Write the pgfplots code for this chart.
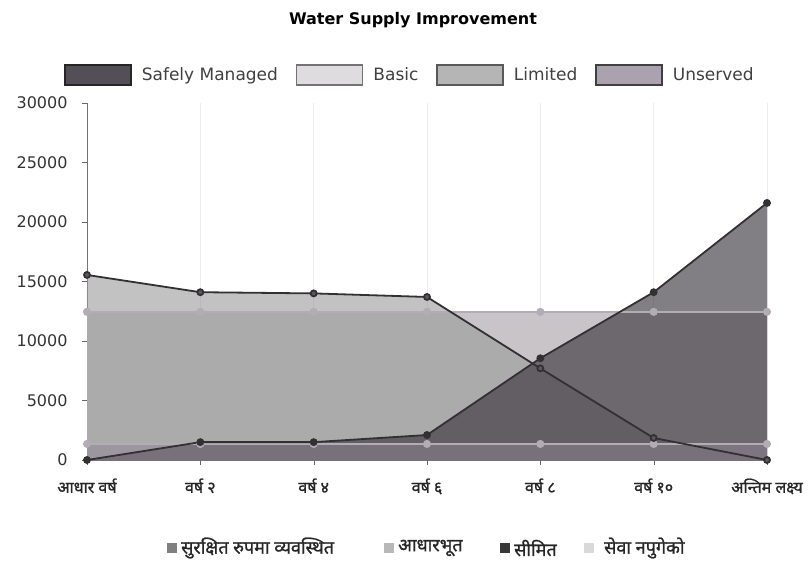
\documentclass[border=0pt]{standalone}
\usepackage{fontspec}
\setmainfont{DejaVu Sans}
\newfontfamily\deva[Script=Devanagari, FakeBold=1.2]{Noto Sans}
\usepackage{pgfplots}
\pgfplotsset{compat=1.18}
\definecolor{basicfill}{HTML}{C8C4C8}
\definecolor{limfill}{HTML}{9C9C9C}
\definecolor{safefill}{HTML}{363038}
\definecolor{unsfill}{HTML}{8E8494}
\definecolor{darkline}{HTML}{333033}
\definecolor{lightline}{HTML}{B4ACB4}
\begin{document}
\begin{tikzpicture}
\path[use as bounding box] (0,0) rectangle (808bp,567bp);
\begin{axis}[
  at={(87bp,107bp)}, anchor=south west,
  scale only axis, width=680bp, height=357bp,
  xmin=0, xmax=6, ymin=0, ymax=30000,
  xtick={0,...,6},
  xticklabels={आधार वर्ष, वर्ष २, वर्ष ४, वर्ष ६, वर्ष ८, वर्ष १०, अन्तिम लक्ष्य},
  ytick={0,5000,...,30000},
  scaled y ticks=false,
  /pgf/number format/1000 sep={},
  /pgf/number format/assume math mode=true,
  yticklabel style={font=\fontsize{16bp}{18bp}\selectfont, text=black!80, xshift=-11bp},
  xticklabel style={font=\deva\bfseries\fontsize{16bp}{18bp}\selectfont, text=black!85, yshift=-10bp},
  axis x line*=bottom, axis y line*=left,
  tick align=outside, major tick length=5bp,
  tick style={black!60},
  xmajorgrids, grid style={black!8},
  axis line style={black!55},
  clip=false,
  title={\bfseries Water Supply Improvement},
  title style={font=\fontsize{16bp}{18bp}\selectfont, at={(0.5,1)}, anchor=center, yshift=77bp, xshift=-14bp},
  legend columns=4,
  legend style={draw=none, fill=none, at={(0.5,1)}, anchor=center, yshift=28bp, xshift=-17bp,
    font=\fontsize{17bp}{19bp}\selectfont, text=black!75,
    /tikz/every odd column/.append style={column sep=8bp},
    /tikz/every even column/.append style={column sep=16bp}},
]
% fills
\addplot[draw=none, fill=basicfill, forget plot] coordinates {(0,12450)(1,12450)(2,12450)(3,12450)(4,12450)(5,12450)(6,12450)} \closedcycle;
\addplot[draw=none, fill=limfill, fill opacity=0.62, forget plot] coordinates {(0,15550)(1,14100)(2,14000)(3,13700)(4,7700)(5,1850)(6,0)} \closedcycle;
\addplot[draw=none, fill=safefill, fill opacity=0.62, forget plot] coordinates {(0,0)(1,1500)(2,1500)(3,2100)(4,8550)(5,14100)(6,21600)} \closedcycle;
\addplot[draw=none, fill=unsfill, fill opacity=0.5, forget plot] coordinates {(0,1350)(1,1350)(2,1350)(3,1350)(4,1350)(5,1350)(6,1350)} \closedcycle;
% lines
\addplot[lightline, line width=2bp, mark=*, mark size=3bp, mark options={fill=lightline, draw=lightline}, forget plot] coordinates {(0,12450)(1,12450)(2,12450)(3,12450)(4,12450)(5,12450)(6,12450)};
\addplot[lightline, line width=2bp, mark=*, mark size=3bp, mark options={fill=lightline, draw=lightline}, forget plot] coordinates {(0,1350)(1,1350)(2,1350)(3,1350)(4,1350)(5,1350)(6,1350)};
\addplot[darkline, line width=1.8bp, mark=*, mark size=3bp, mark options={fill=darkline!80}, forget plot] coordinates {(0,15550)(1,14100)(2,14000)(3,13700)(4,7700)(5,1850)(6,0)};
\addplot[darkline, line width=1.8bp, mark=*, mark size=3bp, mark options={fill=darkline}, forget plot] coordinates {(0,0)(1,1500)(2,1500)(3,2100)(4,8550)(5,14100)(6,21600)};
% legend
\addlegendimage{legend image code/.code={\draw[fill=safefill!85, draw=black!85, line width=1.5bp] (0bp,-10bp) rectangle (66bp,10bp);}}
\addlegendentry{Safely Managed}
\addlegendimage{legend image code/.code={\draw[fill=basicfill!60, draw=black!55, line width=1.5bp] (0bp,-10bp) rectangle (66bp,10bp);}}
\addlegendentry{Basic}
\addlegendimage{legend image code/.code={\draw[fill=limfill!75, draw=black!65, line width=1.5bp] (0bp,-10bp) rectangle (66bp,10bp);}}
\addlegendentry{Limited}
\addlegendimage{legend image code/.code={\draw[fill=unsfill!75, draw=black!75, line width=1.5bp] (0bp,-10bp) rectangle (66bp,10bp);}}
\addlegendentry{Unserved}
\end{axis}
% bottom legend
\begin{scope}[every node/.style={anchor=west, inner sep=0pt, font=\deva\bfseries\fontsize{18bp}{20bp}\selectfont, text=black!85}]
\fill[black!50] (167bp,14bp) rectangle (177bp,24bp);
\node at (181bp,19bp) {सुरक्षित रुपमा व्यवस्थित};
\fill[black!28] (384bp,14bp) rectangle (394bp,24bp);
\node at (398bp,19bp) {आधारभूत};
\fill[black!78] (500bp,14bp) rectangle (510bp,24bp);
\node at (514bp,19bp) {सीमित};
\fill[black!15] (584bp,14bp) rectangle (594bp,24bp);
\node at (604bp,19bp) {सेवा नपुगेको};
\end{scope}
\end{tikzpicture}
\end{document}
